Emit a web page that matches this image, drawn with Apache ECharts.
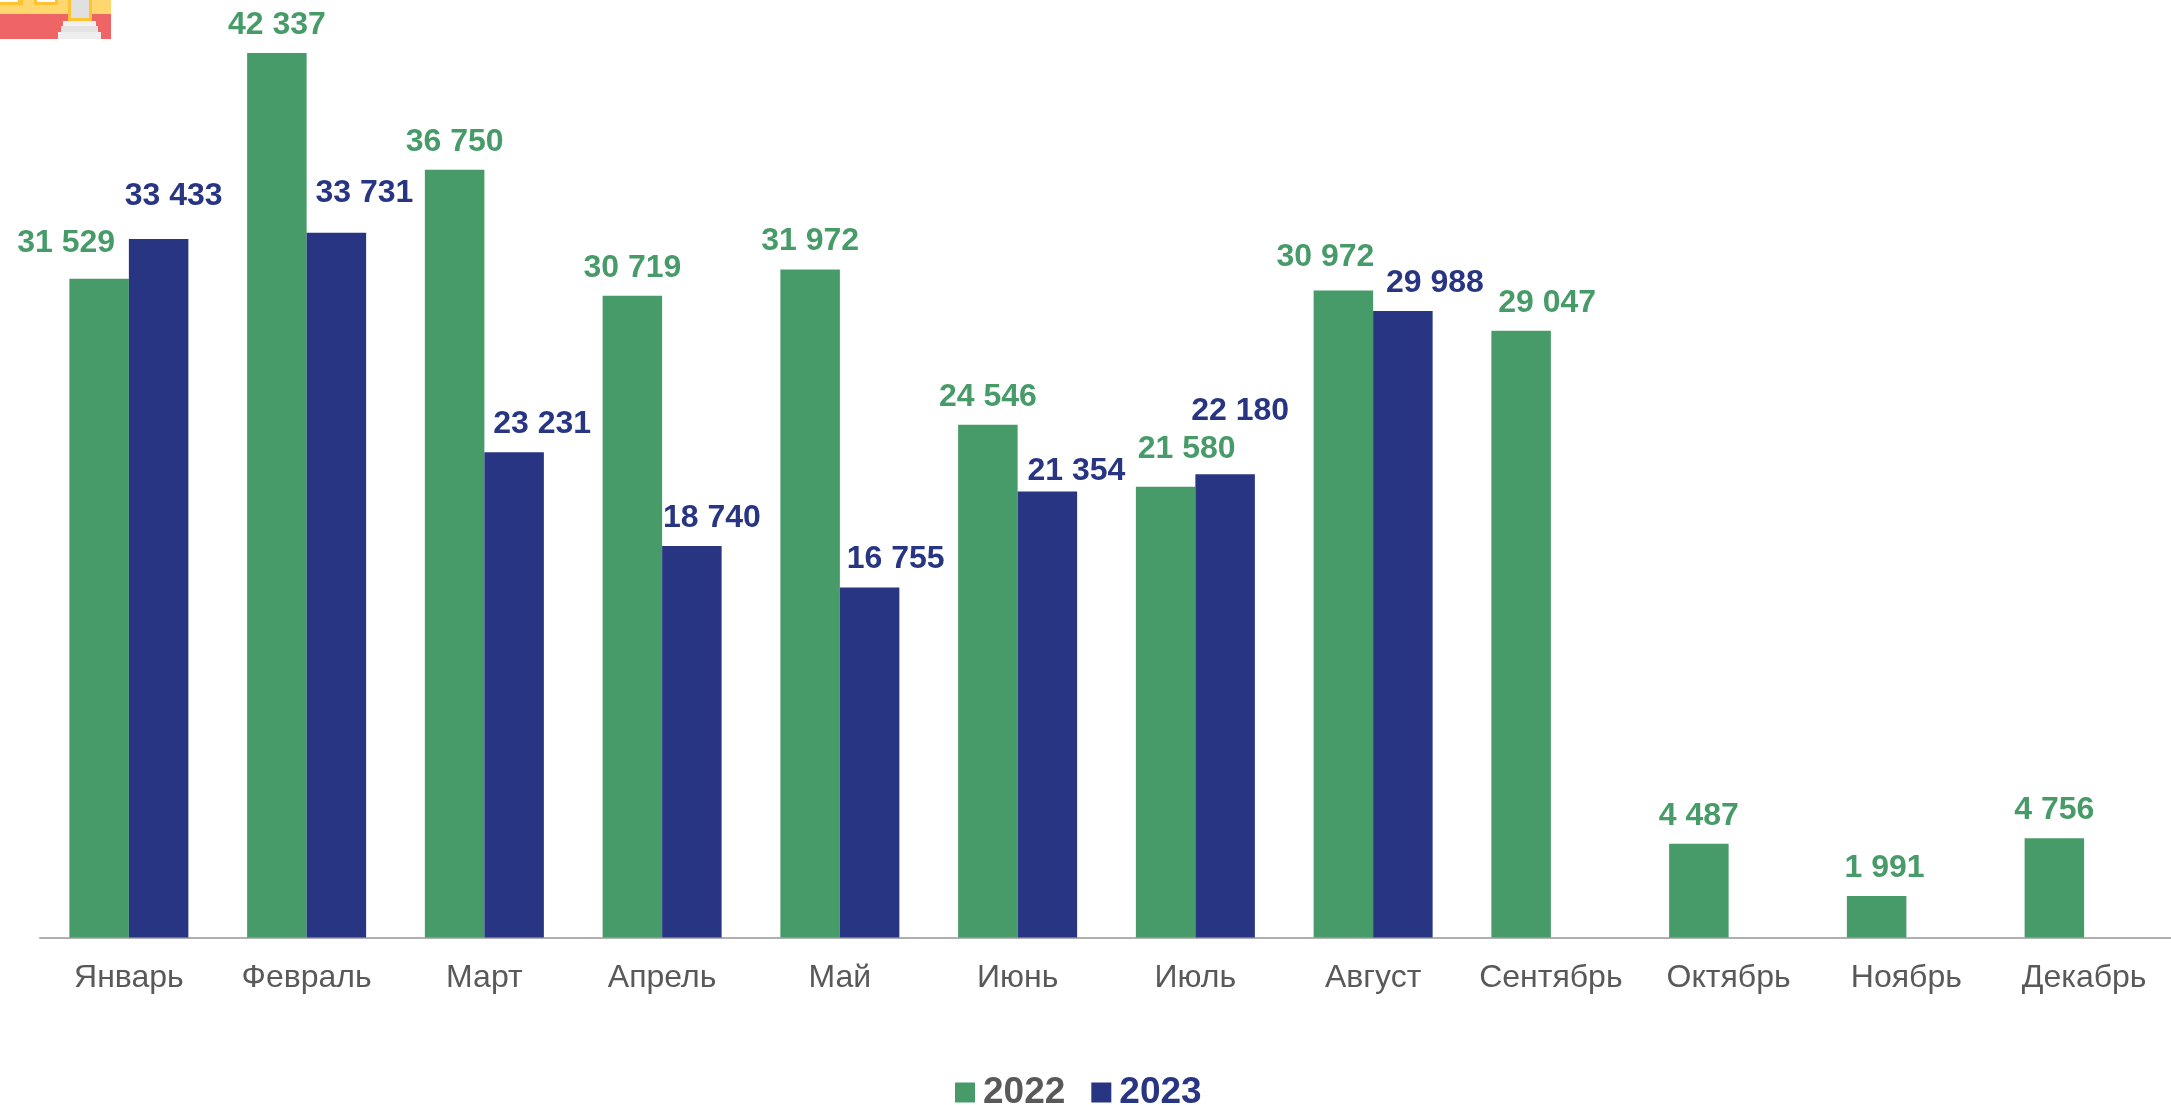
<!DOCTYPE html>
<html><head><meta charset="utf-8">
<style>html,body{margin:0;padding:0;background:#fff}#c{width:2171px;height:1105px}</style>
<script src="https://cdn.jsdelivr.net/npm/echarts@6/dist/echarts.min.js"></script>
</head><body><div id="c"></div>
<script>
const categories = ['Январь','Февраль','Март','Апрель','Май','Июнь','Июль','Август','Сентябрь','Октябрь','Ноябрь','Декабрь'];
const values2022 = [31529,42337,36750,30719,31972,24546,21580,30972,29047,4487,1991,4756];
const values2023 = [33433,33731,23231,18740,16755,21354,22180,29988,null,null,null,null];
const labelShift2022 = [[-33,-8],[0,0],[0,0],[0,0],[0,0],[0,0],[21,-10],[-18,-5],[26,0],[0,0],[8,0],[0,0]];
const labelShift2023 = [[15,-15],[28,-12],[28,0],[20,0],[26,0],[29,8],[15,-35],[32,0],null,null,null,null];
const GREEN='#479B68', BLUE='#283583', GRAY='#595959';
const fmt = p => String(p.value).replace(/\B(?=(\d{3})+$)/g,' ');
const makeData = (vals,shift) => vals.map((v,i)=>({value:v,label:shift[i]?{offset:shift[i]}:{}}));
const FONT='"Liberation Sans",Arial,sans-serif';
const series = (name,vals,shift,color)=>({
  name,type:'bar',barWidth:59.5,barGap:0,data:makeData(vals,shift),
  itemStyle:{color},
  label:{show:true,position:'top',distance:12,color,fontFamily:FONT,fontWeight:'bold',fontSize:32,lineHeight:32,formatter:fmt}
});
const rect=(x,y,w,h,fill)=>({type:'rect',shape:{x,y,width:w,height:h},style:{fill},silent:true});
const chart = echarts.init(document.getElementById('c'),null,{renderer:'canvas'});
chart.setOption({
  animation:false,
  backgroundColor:'#fff',
  grid:{left:40,width:2133,top:18.3,bottom:167.5,containLabel:false,outerBoundsMode:'none'},
  xAxis:{type:'category',data:categories,
    axisLine:{lineStyle:{color:'#b0b0b0',width:2}},axisTick:{show:false},
    axisLabel:{color:GRAY,fontFamily:FONT,fontSize:32,margin:25,interval:0}},
  yAxis:{type:'value',min:0,max:44000,show:false,splitLine:{show:false}},
  legend:{left:950,top:1069,itemGap:26,itemWidth:20,itemHeight:20,icon:'rect',
    textStyle:{fontFamily:FONT,fontWeight:'bold',fontSize:37,padding:[0,0,0,3]},
    data:[{name:'2022',textStyle:{color:GRAY}},{name:'2023',textStyle:{color:BLUE}}]},
  series:[series('2022',values2022,labelShift2022,GREEN),series('2023',values2023,labelShift2023,BLUE)],
  graphic:[
    rect(0,0,111,15,'#FFD76E'),
    rect(0,14,111,25,'#EF6464'),
    rect(0,0,23,5,'#FFC233'),rect(0,0,18,2,'#FFF'),
    rect(34,0,24,5,'#FFC233'),rect(37,0,18,2,'#FFF'),
    rect(68,0,24,21,'#FFC233'),rect(71,0,18,18,'#E0E0E0'),
    rect(63,21,33,5,'#F0F0F0'),rect(61,26,37,6,'#E4E4E4'),rect(58,32,43,7,'#EEEEEE')
  ]
});
</script></body></html>
